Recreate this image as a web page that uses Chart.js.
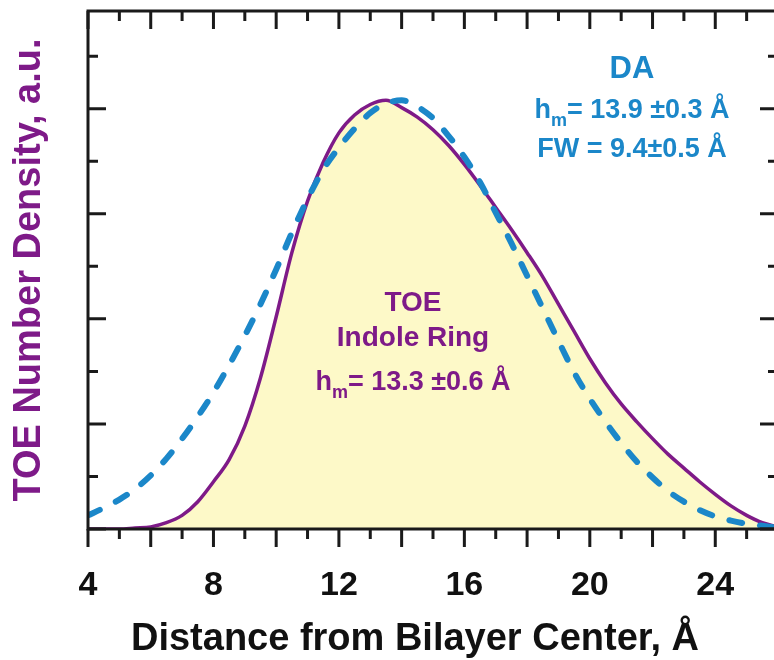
<!DOCTYPE html>
<html>
<head>
<meta charset="utf-8">
<title>TOE Number Density</title>
<script src="https://cdn.jsdelivr.net/npm/chart.js@4.4.1/dist/chart.umd.min.js"></script>
<style>
    html, body { margin: 0; padding: 0; overflow: hidden; background: #ffffff; }
    canvas { display: block; }
</style>
</head>
<body>
<canvas id="densityChart" width="800" height="660"></canvas>
<script>
// Distance from bilayer center, in Angstrom
const distance = [4, 4.5, 5, 5.5, 6, 6.5, 7, 7.5, 8, 8.5, 9, 9.5, 10, 10.5, 11, 11.5, 12, 12.5, 13, 13.5,
    14, 14.5, 15, 15.5, 16, 16.5, 17, 17.5, 18, 18.5, 19, 19.5, 20, 20.5, 21, 21.5, 22, 22.5, 23, 23.5,
    24, 24.5, 25, 25.5, 26];

// TOE indole ring (solid purple, filled)
const toeDensity = [0.00, 0.00, 0.00, 0.01, 0.02, 0.06, 0.13, 0.26, 0.45, 0.66, 0.98, 1.44, 2.02, 2.63, 3.12, 3.49, 3.77, 3.94, 4.04, 4.08,
    4.01, 3.92, 3.80, 3.65, 3.47, 3.27, 3.06, 2.85, 2.63, 2.40, 2.14, 1.88, 1.62, 1.39, 1.19, 1.02, 0.86, 0.71, 0.58, 0.45,
    0.33, 0.22, 0.13, 0.06, 0.02];

// DA (dashed blue)
const daDensity = [0.13, 0.20, 0.28, 0.38, 0.51, 0.67, 0.86, 1.07, 1.30, 1.56, 1.84, 2.14, 2.47, 2.82, 3.14, 3.42, 3.63, 3.81, 3.96, 4.05,
    4.08, 4.02, 3.91, 3.74, 3.54, 3.30, 3.01, 2.72, 2.41, 2.10, 1.79, 1.49, 1.24, 1.02, 0.82, 0.64, 0.49, 0.36, 0.26, 0.18,
    0.12, 0.08, 0.05, 0.03, 0.01];

const xTickLabels = [4, 8, 12, 16, 20, 24];

const PURPLE = '#7e1a88';
const BLUE = '#1b87c9';
const FONT = "'Liberation Sans', Arial, sans-serif";

function toPoints(xs, ys) {
    return xs.map((x, i) => ({ x: x, y: ys[i] }));
}

// h with subscript m, followed by the rest of the line, centred on cx
function drawHm(ctx, cx, y, rest, size) {
    const big = 'bold ' + size + 'px ' + FONT;
    const small = 'bold ' + Math.round(size * 0.68) + 'px ' + FONT;
    ctx.font = big;
    const wh = ctx.measureText('h').width;
    const wr = ctx.measureText(rest).width;
    ctx.font = small;
    const wm = ctx.measureText('m').width;
    let x = cx - (wh + wm + wr) / 2;
    ctx.textAlign = 'left';
    ctx.font = big;
    ctx.fillText('h', x, y);
    x += wh;
    ctx.font = small;
    ctx.fillText('m', x, y + size * 0.28);
    x += wm;
    ctx.font = big;
    ctx.fillText(rest, x, y);
}

// Frame, inward/outward tick marks and the text labels
const framePlugin = {
    id: 'frame',
    afterDraw(chart) {
        const ctx = chart.ctx;
        const xs = chart.scales.x;
        const ys = chart.scales.y;
        const area = chart.chartArea;
        ctx.save();
        ctx.strokeStyle = '#1a1a1a';
        ctx.lineWidth = 3;
        ctx.lineCap = 'butt';
        ctx.beginPath();
        ctx.rect(area.left, area.top, area.right - area.left, area.bottom - area.top);
        ctx.stroke();

        ctx.beginPath();
        for (let v = 4; v <= 26; v++) {
            const px = xs.getPixelForValue(v);
            const major = v % 2 === 0;
            ctx.moveTo(px, area.bottom);
            ctx.lineTo(px, area.bottom + (major ? 18 : 10));
            ctx.moveTo(px, area.top);
            ctx.lineTo(px, area.top + (major ? 18 : 10));
        }
        for (let v = 0; v <= 4.5; v += 0.5) {
            const py = ys.getPixelForValue(v);
            const major = v % 1 === 0;
            ctx.moveTo(area.left, py);
            ctx.lineTo(area.left + (major ? 18 : 10), py);
            ctx.moveTo(area.right, py);
            ctx.lineTo(area.right - (major ? 18 : 10), py);
        }
        ctx.stroke();

        // x axis title (sits a little left of the plot centre)
        ctx.fillStyle = '#111111';
        ctx.textAlign = 'center';
        ctx.textBaseline = 'alphabetic';
        ctx.font = 'bold 38px ' + FONT;
        ctx.fillText('Distance from Bilayer Center, \u00c5', 415, 650);

        // DA annotation
        ctx.fillStyle = BLUE;
        ctx.font = 'bold 31px ' + FONT;
        ctx.fillText('DA', 632, 78);
        drawHm(ctx, 632, 118, '= 13.9 \u00b10.3 \u00c5', 27);
        ctx.textAlign = 'center';
        ctx.font = 'bold 27px ' + FONT;
        ctx.fillText('FW = 9.4\u00b10.5 \u00c5', 632, 157);

        // TOE annotation
        ctx.fillStyle = PURPLE;
        ctx.font = 'bold 28px ' + FONT;
        ctx.fillText('TOE', 413, 311);
        ctx.fillText('Indole Ring', 413, 346);
        drawHm(ctx, 413, 390, '= 13.3 \u00b10.6 \u00c5', 27);
        ctx.restore();
    }
};

document.addEventListener('DOMContentLoaded', function() {
    const ctx = document.getElementById('densityChart');

    new Chart(ctx, {
        type: 'line',
        data: {
            datasets: [{
                label: 'DA',
                data: toPoints(distance, daDensity),
                borderColor: BLUE,
                borderWidth: 6,
                borderDash: [13, 18],
                borderCapStyle: 'round',
                cubicInterpolationMode: 'monotone',
                pointRadius: 0,
                fill: false,
                order: 0
            }, {
                label: 'TOE Indole Ring',
                data: toPoints(distance, toeDensity),
                borderColor: PURPLE,
                borderWidth: 3.5,
                backgroundColor: '#fdf9c8',
                cubicInterpolationMode: 'monotone',
                pointRadius: 0,
                fill: 'origin',
                order: 1
            }]
        },
        options: {
            responsive: false,
            animation: false,
            devicePixelRatio: 1,
            layout: {
                padding: { top: 11, right: 22, left: 0, bottom: 0 }
            },
            plugins: {
                legend: { display: false },
                tooltip: { enabled: false }
            },
            scales: {
                x: {
                    type: 'linear',
                    min: 4,
                    max: 26,
                    grid: { display: false },
                    border: { display: false },
                    afterFit: function(scale) { scale.height = 131; },
                    afterBuildTicks: function(scale) {
                        scale.ticks = xTickLabels.map(v => ({ value: v }));
                    },
                    ticks: {
                        autoSkip: false,
                        maxRotation: 0,
                        padding: 28,
                        color: '#111111',
                        font: { family: FONT, size: 34, weight: 'bold' }
                    }
                },
                y: {
                    min: 0,
                    max: 4.93,
                    grid: { display: false },
                    border: { display: false },
                    ticks: { display: false },
                    afterFit: function(scale) { scale.width = 88; },
                    title: {
                        display: true,
                        text: 'TOE Number Density, a.u.',
                        color: PURPLE,
                        padding: { top: 7, bottom: 0 },
                        font: { family: FONT, size: 38, weight: 'bold' }
                    }
                }
            }
        },
        plugins: [framePlugin]
    });
});
</script>
</body>
</html>
